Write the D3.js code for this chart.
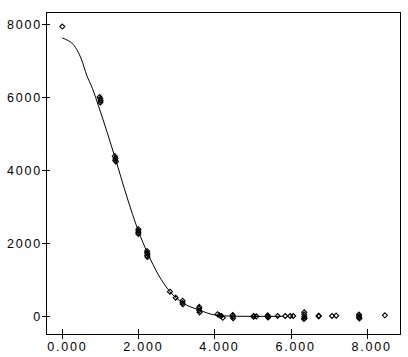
<!DOCTYPE html>
<html>
<head>
<meta charset="utf-8">
<script src="https://cdn.jsdelivr.net/npm/d3@7"></script>
<style>
  body { margin: 0; background: #fff; }
  text { font-family: "Liberation Sans", Helvetica, sans-serif; font-size: 12.5px; letter-spacing: 1.8px; fill: #000; }
</style>
</head>
<body>
<div id="chart"></div>
<script>
// observed points (x, y)
var pointX = [0.00,
  0.98, 1.00, 1.01, 1.00,
  1.38, 1.40, 1.39, 1.41,
  2.00, 2.00, 2.00, 2.00,
  2.23, 2.23, 2.24, 2.23, 2.24,
  2.83, 2.98,
  3.16, 3.16, 3.17,
  3.60, 3.60, 3.60, 3.61,
  4.08, 4.13, 4.18, 4.22,
  4.48, 4.48, 4.49,
  5.03, 5.03, 5.10,
  5.40, 5.40, 5.41,
  5.66, 5.86, 5.99, 6.07,
  6.36, 6.36, 6.36, 6.37, 6.35,
  6.74, 6.74,
  7.09, 7.20,
  7.80, 7.80, 7.80, 7.81,
  8.48]
var pointY = [7930,
  6000, 5950, 5900, 5850,
  4380, 4320, 4270, 4230,
  2380, 2330, 2280, 2250,
  1780, 1730, 1700, 1650, 1620,
  666, 500,
  420, 360, 320,
  250, 200, 150, 100,
  50, 20, 0, -50,
  30, -20, -60,
  -20, 0, -10,
  -10, 20, -40,
  0, 0, 0, 0,
  100, 40, -20, -60, -80,
  -10, 10,
  0, 10,
  40, 0, -40, -70,
  20]

// fitted curve
var curveX = [0, 0.16, 0.25, 0.51, 0.64, 0.79, 0.97, 1.39, 1.70, 2.00, 2.24, 2.53, 2.83, 3.16, 3.60, 4.02, 4.50, 5.00, 5.80]
var curveY = [7617, 7543, 7480, 7014, 6603, 6240, 5699, 4329, 3260, 2329, 1726, 1123, 666, 364, 164, 27, -5, -10, -10]

var xTicks = [0, 2, 4, 6, 8]
var yTicks = [0, 2000, 4000, 6000, 8000]

var width = 408, height = 357
var plotLeft = 46, plotRight = 400.5, plotTop = 12, plotBottom = 334

var svg = d3.select("#chart").append("svg")
  .attr("width", width)
  .attr("height", height)

var x = d3.scaleLinear().domain([-0.428, 8.89]).range([plotLeft, plotRight])
var y = d3.scaleLinear().domain([-493, 8329]).range([plotBottom, plotTop])

// frame
svg.append("rect")
  .attr("x", plotLeft).attr("y", plotTop + 0.5)
  .attr("width", plotRight - plotLeft).attr("height", plotBottom - plotTop)
  .attr("fill", "none").attr("stroke", "#000")
  .attr("shape-rendering", "crispEdges")

var xAxis = svg.append("g")
  .attr("transform", "translate(0," + plotBottom + ")")
  .call(d3.axisBottom(x).tickValues(xTicks).tickFormat(d3.format(".3f")).tickSize(5))
xAxis.select(".domain").remove()
xAxis.selectAll("line").attr("y1", -5).attr("y2", 5).attr("stroke", "#000")
  .attr("shape-rendering", "crispEdges")
xAxis.selectAll("text").attr("y", 16.5).attr("dy", 0).attr("dx", 4.5)

var yAxis = svg.append("g")
  .attr("transform", "translate(" + plotLeft + ",0)")
  .call(d3.axisLeft(y).tickValues(yTicks).tickFormat(d3.format("d")).tickSize(4))
yAxis.select(".domain").remove()
yAxis.selectAll("line").attr("x1", -4).attr("x2", 4).attr("stroke", "#000")
  .attr("shape-rendering", "crispEdges")
yAxis.selectAll("text").attr("x", -4).attr("dy", "0.36em")

xAxis.attr("font-family", null).attr("font-size", null)
yAxis.attr("font-family", null).attr("font-size", null)

// curve
var line = d3.line()
  .x(function(d, i) { return x(curveX[i]) })
  .y(function(d, i) { return y(curveY[i]) })
  .curve(d3.curveMonotoneX)

svg.append("path")
  .datum(curveX)
  .attr("d", line)
  .attr("fill", "none")
  .attr("stroke", "#000")
  .attr("stroke-width", 1)

// diamonds
svg.append("g").selectAll("path")
  .data(pointX)
  .enter()
  .append("path")
  .attr("transform", function(d, i) { return "translate(" + x(d) + "," + y(pointY[i]) + ")" })
  .attr("d", "M0,-2.5L2.5,0L0,2.5L-2.5,0Z")
  .attr("fill", "none")
  .attr("stroke", "#000")
  .attr("stroke-width", 1.1)
</script>
</body>
</html>
